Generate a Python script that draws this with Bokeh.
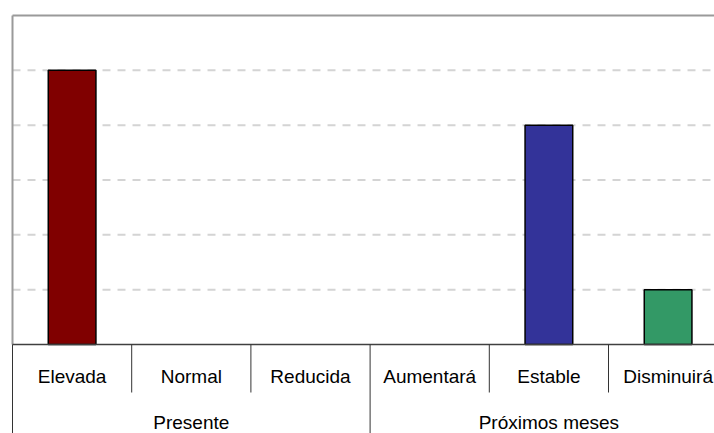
from bokeh.plotting import figure
from bokeh.models import Range1d, ColumnDataSource
from bokeh.core.properties import value
from bokeh.embed import file_html
from bokeh.resources import INLINE

# ---- data ----
categories = ["Elevada", "Normal", "Reducida", "Aumentará", "Estable", "Disminuirá"]
groups = ["Presente", "Presente", "Presente", "Próximos meses", "Próximos meses", "Próximos meses"]
values = [5, 0, 0, 0, 4, 1]
bar_colors = ["#800000", "#800000", "#800000", "#333399", "#333399", "#339966"]
grid_values = [1, 2, 3, 4, 5]
y_top = 6

# ---- layout (pixels) ----
FIG_W, FIG_H = 714, 433
BORDER_L, BORDER_T = 10, 13
cat_px = 119.2               # width of one category in px
ppu = 329 / y_top            # px per y unit
frame_left_pad = 2           # frame starts 2px left of axis origin
frame_top_pad = 2            # frame starts 2px above top value

frame_w = FIG_W - BORDER_L
frame_h = FIG_H - BORDER_T
x_start = -frame_left_pad / cat_px
x_end = x_start + frame_w / cat_px
y_end = y_top + frame_top_pad / ppu
y_start = y_end - frame_h / ppu

p = figure(width=FIG_W, height=FIG_H, output_backend="svg", toolbar_location=None,
           x_axis_location=None, y_axis_location=None,
           x_range=Range1d(x_start, x_end), y_range=Range1d(y_start, y_end),
           min_border_left=BORDER_L, min_border_right=0, min_border_top=BORDER_T, min_border_bottom=0)
p.outline_line_color = None
p.background_fill_color = "white"
p.border_fill_color = "white"
p.xgrid.visible = False
p.ygrid.visible = False

n = len(categories)

# gridlines
p.segment(x0=[0] * len(grid_values), x1=[x_end] * len(grid_values), y0=grid_values, y1=grid_values,
          line_color="#d4d4d4", line_width=2, line_dash="8 7")

# plot-area border (top and left)
p.segment(x0=[0, 0], x1=[x_end, 0], y0=[y_top, y_top], y1=[y_top, 0],
          line_color="#9a9a9a", line_width=2)

# bars
idx = [i for i in range(n) if values[i] > 0]
src = ColumnDataSource(dict(
    x=[i + 0.5 for i in idx],
    top=[values[i] for i in idx],
    color=[bar_colors[i] for i in idx],
))
p.vbar(x="x", top="top", bottom=0, width=0.4, source=src,
       fill_color="color", line_color="black", line_width=1.5)

# baseline
p.segment(x0=[0], x1=[x_end], y0=[0], y1=[0], line_color="#404040", line_width=1.5)

# separators
short_y = -48 / ppu
bottom_y = y_start
sep_x, sep_y1 = [0], [bottom_y]
for i in range(1, n):
    sep_x.append(i)
    sep_y1.append(bottom_y if groups[i] != groups[i - 1] else short_y)
p.segment(x0=sep_x, x1=sep_x, y0=[0] * len(sep_x), y1=sep_y1, line_color="#333333", line_width=1)

# category labels
p.text(x=[i + 0.5 for i in range(n)], y=[-32 / ppu] * n, text=categories,
       text_font=value("Liberation Sans"), text_font_size="19px", text_color="black",
       text_align="center", text_baseline="alphabetic")

# group labels
uniq = []
for g in groups:
    if g not in uniq:
        uniq.append(g)
gx = []
for g in uniq:
    ids = [i for i in range(n) if groups[i] == g]
    gx.append((ids[0] + ids[-1] + 1) / 2)
p.text(x=gx, y=[-78 / ppu] * len(uniq), text=uniq,
       text_font=value("Liberation Sans"), text_font_size="19px", text_color="black",
       text_align="center", text_baseline="alphabetic")

open("out.html", "w").write(file_html(p, INLINE))
